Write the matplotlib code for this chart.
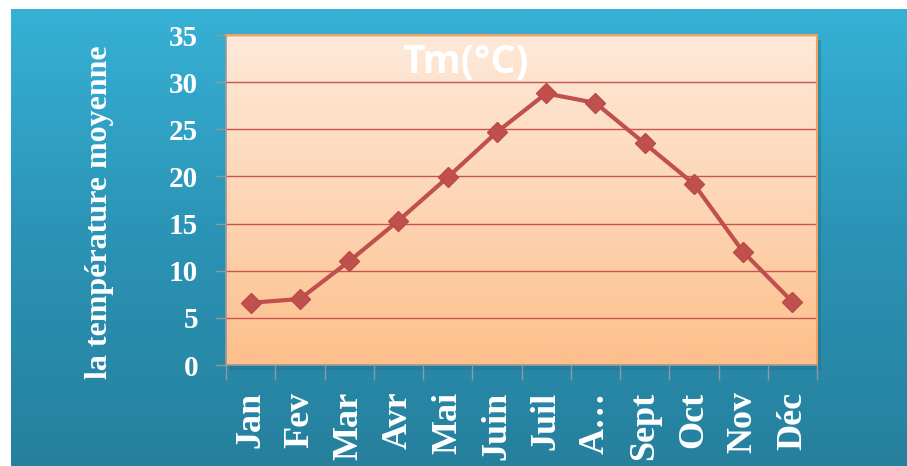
import numpy as np
import matplotlib
matplotlib.use("Agg")
import matplotlib.pyplot as plt
from matplotlib.colors import LinearSegmentedColormap

months = ["Jan", "Fev", "Mar", "Avr", "Mai", "Juin", "Juil", "A…", "Sept", "Oct", "Nov", "Déc"]
temps = [6.6, 7.0, 11.0, 15.3, 19.9, 24.7, 28.8, 27.8, 23.5, 19.2, 12.0, 6.7]
yticks = [0, 5, 10, 15, 20, 25, 30, 35]
title = "Tm(°C)"
ylabel = "la température moyenne"

W, H = 907, 466
fig = plt.figure(figsize=(W / 100, H / 100), dpi=100)
fig.patch.set_facecolor("white")

# blue gradient background panel
bg = fig.add_axes([11 / W, 0, 1 - 11 / W, 1 - 9 / H])
bg.set_axis_off()
cm_bg = LinearSegmentedColormap.from_list("bg", ["#36b1d5", "#2b93b5", "#26809d"])
grad = np.linspace(0, 1, 256).reshape(-1, 1)
bg.imshow(grad, aspect="auto", cmap=cm_bg, extent=[0, 1, 0, 1], origin="upper")
bg.set_xlim(0, 1)
bg.set_ylim(0, 1)

# shadow of plot area
sh = fig.add_axes([(226 + 4) / W, (466 - 365 - 5) / H, 591 / W, 330 / H])
sh.set_axis_off()
sh.add_patch(plt.Rectangle((0, 0), 1, 1, transform=sh.transAxes, color="#1d6a82", alpha=0.35))

ax = fig.add_axes([226 / W, (466 - 365) / H, 591 / W, 330 / H])
x = np.arange(len(months))
ax.set_xlim(-0.5, len(months) - 0.5)
ax.set_ylim(0, 35)

cm_pl = LinearSegmentedColormap.from_list("pl", ["#fee9d9", "#fdd6b6", "#fdbf8b"])
ax.imshow(grad, aspect="auto", cmap=cm_pl, extent=[-0.5, len(months) - 0.5, 0, 35],
          origin="upper", zorder=0)

for yv in yticks[1:]:
    ax.axhline(yv, color="#c9544f", lw=1.0, zorder=1)

ax.plot(x, temps, color="#c0504d", lw=3.0, marker="D", markersize=10.5,
        markerfacecolor="#c0504d", markeredgecolor="#b84a47", zorder=3, clip_on=False)

ax.set_yticks(yticks)
ax.set_yticklabels([str(v) for v in yticks])
ax.set_xticks(x)
ax.set_xticklabels(months, rotation=90)
ax.set_xticks(np.arange(len(months) + 1) - 0.5, minor=True)
ax.tick_params(axis="x", which="major", length=0, pad=19)
ax.tick_params(axis="x", which="minor", length=11, color="#8c9aa0", width=1)
ax.tick_params(axis="y", length=8, color="#8c9aa0", width=1, pad=12)

for lab in ax.get_xticklabels():
    lab.set_fontfamily("Liberation Serif")
    lab.set_fontweight("bold")
    lab.set_fontsize(26)
    lab.set_color("white")
for lab in ax.get_yticklabels():
    lab.set_fontfamily("Liberation Serif")
    lab.set_fontweight("bold")
    lab.set_fontsize(21)
    lab.set_color("white")

for side in ["top", "right"]:
    ax.spines[side].set_color("#f0a060")
    ax.spines[side].set_linewidth(1.5)
ax.spines["left"].set_color("#9a9a9a")
ax.spines["bottom"].set_color("#9a9a9a")
ax.spines["left"].set_linewidth(1.2)
ax.spines["bottom"].set_linewidth(1.2)

ax.text((465 - 226) / 591, (365 - 62) / 330, title, transform=ax.transAxes, ha="center", va="center",
        fontsize=28, fontweight="bold", color="white", family="Open Sans", zorder=4)

fig.text(100 / W, 1 - 212 / H, ylabel, rotation=90, ha="center", va="center",
         fontsize=23, fontweight="bold", color="white", family="Liberation Serif")

fig.savefig("out.png", dpi=100, facecolor=fig.get_facecolor())
